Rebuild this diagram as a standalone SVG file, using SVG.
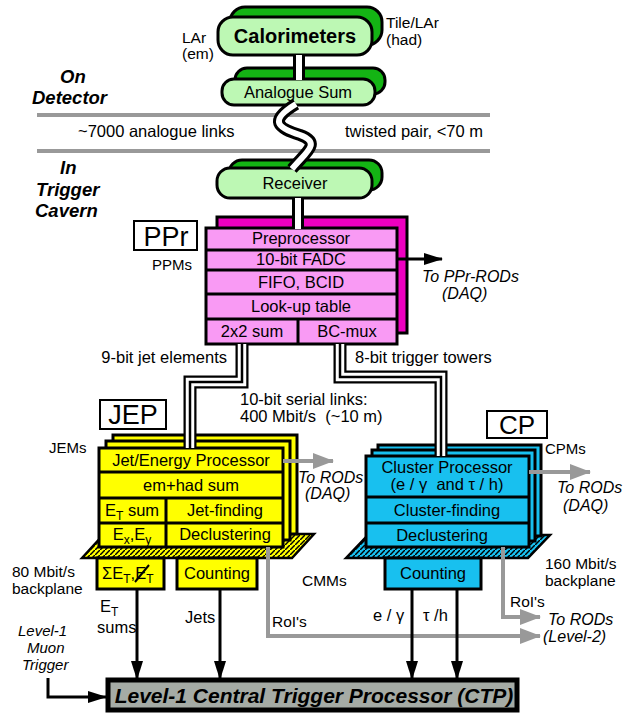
<svg xmlns="http://www.w3.org/2000/svg" width="637" height="715" viewBox="0 0 637 715">
<style>
text{font-family:"Liberation Sans",Arial,sans-serif;font-size:16.5px;fill:#000}
.c{text-anchor:middle}
.e{text-anchor:end}
.it{font-style:italic;font-size:16px}
.bi{font-style:italic;font-weight:bold;font-size:18.5px}
.big{font-size:27px}
.sub{font-size:12px}
.bx{stroke:#000;stroke-width:3}
.gp{fill:#14b414}
.gf{fill:#bdf8b4}
.mb{fill:#ee00c0}
.mf{fill:#f99af4}
.y{fill:#ffff00}
.cy{fill:#18c0ef}
.lbl{fill:#fff;stroke:#000;stroke-width:2}
.bound{stroke:#999;stroke-width:4}
.dO{fill:none;stroke:#000;stroke-width:12}
.dI{fill:none;stroke:#fff;stroke-width:6}
.tO{fill:none;stroke:#000;stroke-width:13}
.tM{fill:none;stroke:#fff;stroke-width:8.5}
.tC{fill:none;stroke:#000;stroke-width:2.5}
.ba{fill:none;stroke:#000;stroke-width:3}
.ga{fill:none;stroke:#999;stroke-width:4}
</style>
<defs>
<pattern id="hatchY" patternUnits="userSpaceOnUse" width="5" height="5">
<rect width="5" height="5" fill="#ffff00"/>
<path d="M-1,6 L6,-1" stroke="#000" stroke-width="1.5"/>
</pattern>
<pattern id="hatchC" patternUnits="userSpaceOnUse" width="5" height="5">
<rect width="5" height="5" fill="#18c0ef"/>
<path d="M-1,6 L6,-1" stroke="#000" stroke-width="1.5"/>
</pattern>
<marker id="ahB" markerUnits="userSpaceOnUse" viewBox="0 0 19 12" markerWidth="19" markerHeight="12" refX="18" refY="6" orient="auto">
<path d="M0,0 L19,6 L0,12 z" fill="#000"/>
</marker>
<marker id="ahG" markerUnits="userSpaceOnUse" viewBox="0 0 21 16" markerWidth="21" markerHeight="16" refX="20" refY="8" orient="auto">
<path d="M0,0 L21,8 L0,16 z" fill="#999"/>
</marker>
<path id="link1" d="M299,55 V80"/>
<path id="twist" d="M296,104 C268,121 278,128 300,135 C322,143 306,152 292,169"/>
<path id="link2" d="M298,198 V229"/>
<path id="cableL" d="M242,344 V382 H190 V448"/>
<path id="cableR" d="M340,344 V377 H441 V456"/>
</defs>

<g id="boundaries">
<line class="bound" x1="37" y1="115" x2="490" y2="115"/>
<line class="bound" x1="37" y1="151" x2="490" y2="151"/>
<text x="78" y="137">~7000 analogue links</text>
<text x="345" y="137">twisted pair, &lt;70 m</text>
<text class="bi" x="60" y="83">On</text>
<text class="bi" x="32" y="104">Detector</text>
<text class="bi" x="60" y="174">In</text>
<text class="bi" x="36" y="196">Trigger</text>
<text class="bi" x="35" y="217">Cavern</text>
</g>

<g id="calorimeters">
<rect class="bx gp" x="230" y="7" width="152" height="38" rx="15"/>
<rect class="bx gf" x="218" y="17" width="154" height="38" rx="15"/>
<text class="c" x="295" y="43" style="font-weight:bold;font-size:20px">Calorimeters</text>
<text x="182" y="43" style="font-size:15.5px">LAr</text>
<text x="182" y="59" style="font-size:15.5px">(em)</text>
<text x="386" y="28" style="font-size:15.5px">Tile/LAr</text>
<text x="386" y="45" style="font-size:15.5px">(had)</text>
</g>

<g id="analogue-sum">
<rect class="bx gp" x="235" y="68" width="150" height="26" rx="12"/>
<rect class="bx gf" x="222" y="79" width="153" height="26" rx="12"/>
<text class="c" x="298" y="98">Analogue Sum</text>
</g>

<g id="receiver">
<rect class="bx gp" x="229" y="160" width="153" height="30" rx="13"/>
<rect class="bx gf" x="217" y="168" width="155" height="30" rx="13"/>
<text class="c" x="295" y="189">Receiver</text>
</g>

<g id="ppr">
<rect class="lbl" x="134" y="221" width="63" height="29"/>
<text class="c big" x="166" y="246">PPr</text>
<text x="152" y="270" style="font-size:15px">PPMs</text>
<rect class="bx mb" x="217" y="217" width="190" height="116"/>
<rect class="bx mf" x="206" y="228" width="191" height="116"/>
<path d="M206,250 H397 M206,270 H397 M206,294 H397 M206,319 H397 M298,319 V344" stroke="#000" stroke-width="3"/>
<text class="c" x="301" y="244">Preprocessor</text>
<text class="c" x="301" y="265">10-bit FADC</text>
<text class="c" x="301" y="288">FIFO, BCID</text>
<text class="c" x="301" y="312">Look-up table</text>
<text class="c" x="252" y="337">2x2 sum</text>
<text class="c" x="347" y="337">BC-mux</text>
<text class="it" x="422" y="282">To PPr-RODs</text>
<text class="it" x="442" y="299">(DAQ)</text>
</g>

<g id="jep">
<rect class="lbl" x="100" y="400" width="66" height="29"/>
<text class="c big" x="133" y="424">JEP</text>
<text x="49" y="453" style="font-size:15px">JEMs</text>
<polygon points="82,558 104,534 314,534 292,558" fill="url(#hatchY)" stroke="#000" stroke-width="2.5"/>
<rect class="bx y" x="113" y="435" width="184" height="99"/>
<rect class="bx y" x="106" y="441" width="184" height="99"/>
<rect class="bx y" x="99" y="448" width="184" height="99"/>
<path d="M99,472 H283 M99,498 H283 M99,523 H283 M166,498 V547" stroke="#000" stroke-width="3"/>
<text class="c" x="191" y="466">Jet/Energy Processor</text>
<text class="c" x="191" y="491">em+had  sum</text>
<text class="c" x="132" y="516">E<tspan class="sub" dy="4">T</tspan><tspan dy="-4"> sum</tspan></text>
<text class="c" x="225" y="516">Jet-finding</text>
<text class="c" x="132" y="540">E<tspan class="sub" dy="4">x</tspan><tspan dy="-4">,E</tspan><tspan class="sub" dy="4">y</tspan></text>
<text class="c" x="225" y="540">Declustering</text>
<text class="it" x="298" y="483">To RODs</text>
<text class="it" x="305" y="499">(DAQ)</text>
<text x="12" y="577" style="font-size:15.5px">80 Mbit/s</text>
<text x="12" y="594" style="font-size:15.5px">backplane</text>
</g>

<g id="jep-sum">
<rect class="bx y" x="97" y="558" width="67" height="31"/>
<text x="102" y="579">ΣE<tspan class="sub" dy="4">T</tspan><tspan dy="-4">,E</tspan><tspan class="sub" dy="4">T</tspan></text>
<line x1="135" y1="582" x2="149" y2="565" stroke="#000" stroke-width="2"/>
<text x="100" y="612">E<tspan class="sub" dy="4">T</tspan></text>
<text x="97" y="633">sums</text>
</g>

<g id="jep-counting">
<rect class="bx y" x="177" y="558" width="80" height="31"/>
<text class="c" x="217" y="579">Counting</text>
<text x="185" y="623">Jets</text>
</g>

<g id="cp">
<rect class="lbl" x="487" y="411" width="60" height="27"/>
<text class="c" x="517" y="434" style="font-size:26px">CP</text>
<text x="545" y="454" style="font-size:15px">CPMs</text>
<polygon points="346,558 368,535 550,535 528,558" fill="url(#hatchC)" stroke="#000" stroke-width="2.5"/>
<rect class="bx cy" x="378" y="445" width="163" height="91"/>
<rect class="bx cy" x="372" y="450" width="163" height="91"/>
<rect class="bx cy" x="366" y="456" width="163" height="91"/>
<path d="M366,497 H529 M366,523 H529" stroke="#000" stroke-width="3"/>
<text class="c" x="447" y="473">Cluster Processor</text>
<text class="c" x="447" y="490" xml:space="preserve">(e / γ  and τ / h)</text>
<text class="c" x="447" y="516">Cluster-finding</text>
<text class="c" x="442" y="541">Declustering</text>
<text class="it" x="557" y="493">To RODs</text>
<text class="it" x="563" y="511">(DAQ)</text>
<text x="545" y="569" style="font-size:15.5px">160 Mbit/s</text>
<text x="545" y="586" style="font-size:15.5px">backplane</text>
<text x="302" y="586" style="font-size:15.5px">CMMs</text>
</g>

<g id="cp-counting">
<rect class="bx cy" x="385" y="558" width="96" height="31"/>
<text class="c" x="433" y="579">Counting</text>
<text x="373" y="621" xml:space="preserve">e / γ</text>
<text x="423" y="621" xml:space="preserve">τ /h</text>
</g>

<g id="ctp">
<rect x="108" y="680" width="409" height="30" fill="#a5aba5" stroke="#000" stroke-width="5"/>
<text class="c" x="314" y="703" style="font-style:italic;font-weight:bold;font-size:21px">Level-1 Central Trigger Processor (CTP)</text>
</g>

<g id="muon">
<text class="it" x="18" y="636" style="font-size:15px">Level-1</text>
<text class="it" x="27" y="653" style="font-size:15px">Muon</text>
<text class="it" x="22" y="670" style="font-size:15px">Trigger</text>
</g>

<g id="connectors">
<use href="#link1" class="dO"/><use href="#link1" class="dI"/>
<use href="#twist" class="dO"/><use href="#twist" class="dI"/>
<use href="#link2" class="dO"/><use href="#link2" class="dI"/>
<use href="#cableL" class="tO"/><use href="#cableL" class="tM"/><use href="#cableL" class="tC"/>
<use href="#cableR" class="tO"/><use href="#cableR" class="tM"/><use href="#cableR" class="tC"/>
<path class="ba" d="M397,259 H442" marker-end="url(#ahB)"/>
<path class="ga" d="M283,461 H333" marker-end="url(#ahG)"/>
<path class="ga" d="M529,472 H590" marker-end="url(#ahG)"/>
<path class="ga" d="M268,547 V636 H540" marker-end="url(#ahG)"/>
<path class="ga" d="M503,547 V617 H540" marker-end="url(#ahG)"/>
<path class="ba" d="M137,589 V679" marker-end="url(#ahB)"/>
<path class="ba" d="M220,589 V679" marker-end="url(#ahB)"/>
<path class="ba" d="M412,589 V679" marker-end="url(#ahB)"/>
<path class="ba" d="M457,589 V679" marker-end="url(#ahB)"/>
<path class="ba" d="M48,678 V697 H106" marker-end="url(#ahB)"/>
<text x="272" y="627" style="font-size:15.5px">RoI's</text>
<text x="510" y="607" style="font-size:15.5px">RoI's</text>
<text class="it" x="548" y="625">To RODs</text>
<text class="it" x="543" y="642">(Level-2)</text>
<text class="e" x="227" y="363">9-bit jet elements</text>
<text x="355" y="363">8-bit trigger towers</text>
<text x="240" y="405">10-bit serial links:</text>
<text x="240" y="422" xml:space="preserve">400 Mbit/s  (~10 m)</text>
</g>
</svg>
